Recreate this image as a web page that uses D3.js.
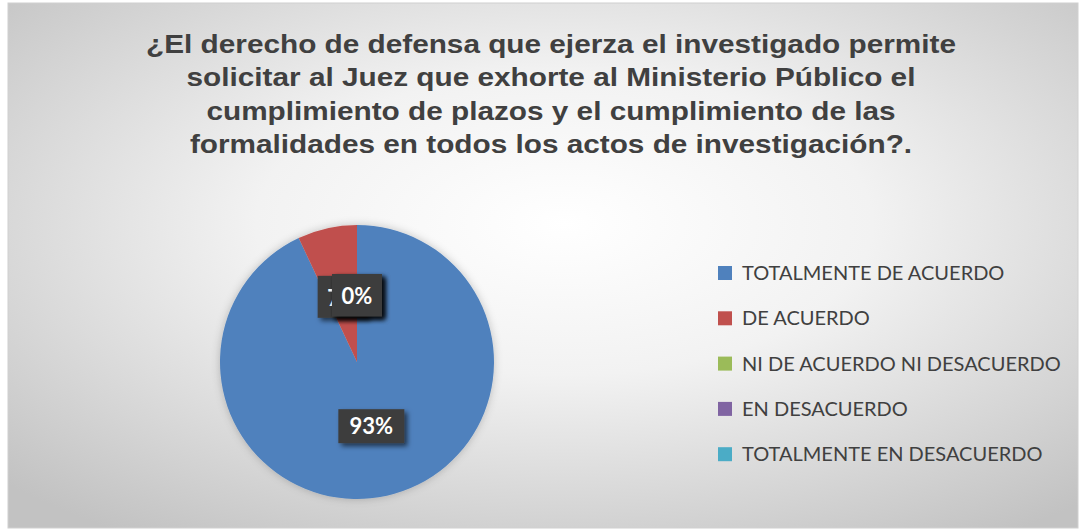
<!DOCTYPE html>
<html>
<head>
<meta charset="utf-8">
<script src="https://cdn.jsdelivr.net/npm/d3@7"></script>
<style>
  body { margin: 0; background: #fff; }
</style>
</head>
<body>
<div id="container"></div>
<script>
const titleLines = [
  "¿El derecho de defensa que ejerza el investigado permite",
  "solicitar al  Juez que exhorte al Ministerio Público el",
  "cumplimiento  de plazos y el cumplimiento  de las",
  "formalidades en todos los actos de investigación?."
];
const categories = [
  "TOTALMENTE DE ACUERDO",
  "DE ACUERDO",
  "NI DE ACUERDO NI DESACUERDO",
  "EN DESACUERDO",
  "TOTALMENTE EN DESACUERDO"
];
const values = [93, 7, 0, 0, 0];
const colors = ["#4F81BD", "#C0504D", "#9BBB59", "#8064A2", "#4BACC6"];

const width = 1086, height = 529;

const svg = d3.select("#container")
  .append("svg")
  .attr("width", width)
  .attr("height", height);

const defs = svg.append("defs");

const bg = defs.append("radialGradient")
  .attr("id", "bg")
  .attr("cx", "52%").attr("cy", "42%").attr("r", "72%");
bg.append("stop").attr("offset", "0%").attr("stop-color", "#ffffff");
bg.append("stop").attr("offset", "40%").attr("stop-color", "#f2f2f2");
bg.append("stop").attr("offset", "100%").attr("stop-color", "#c2c2c2");

const shadow = defs.append("filter").attr("id", "shadow")
  .attr("x", "-20%").attr("y", "-20%").attr("width", "150%").attr("height", "150%");
shadow.append("feDropShadow")
  .attr("dx", 3).attr("dy", 3).attr("stdDeviation", 2.5)
  .attr("flood-color", "#000").attr("flood-opacity", 0.6);

const pieShadow = defs.append("filter").attr("id", "pieShadow")
  .attr("x", "-20%").attr("y", "-20%").attr("width", "140%").attr("height", "140%");
pieShadow.append("feDropShadow")
  .attr("dx", 0).attr("dy", 0).attr("stdDeviation", 4)
  .attr("flood-color", "#000").attr("flood-opacity", 0.22);

// chart area
svg.append("rect")
  .attr("x", 8).attr("y", 3)
  .attr("width", 1070).attr("height", 525)
  .attr("fill", "url(#bg)")
  .attr("stroke", "#d0d0d0");

// title (the original font is stretched sideways)
svg.append("g")
  .attr("transform", "translate(551,0) scale(1.19,1)")
  .selectAll("text")
  .data(titleLines)
  .join("text")
  .attr("x", 0)
  .attr("y", (d, i) => 53 + i * 33.3)
  .attr("text-anchor", "middle")
  .style("font-family", "'Liberation Sans', Arial, sans-serif")
  .style("font-size", "25px")
  .style("font-weight", "bold")
  .style("fill", "#404040")
  .text(d => d);

// pie
const cx = 357, cy = 362, r = 137;
const pie = d3.pie().sort(null).value(d => d);
const arcs = pie(values);
const arc = d3.arc().innerRadius(0).outerRadius(r);
const labelArc = d3.arc().innerRadius(r * 0.48).outerRadius(r * 0.48);

const pieGroup = svg.append("g")
  .attr("transform", `translate(${cx},${cy})`);

pieGroup.append("g")
  .attr("filter", "url(#pieShadow)")
  .selectAll("path")
  .data(arcs)
  .join("path")
  .attr("d", arc)
  .attr("fill", (d, i) => colors[i]);

// labels (zero slices stack on top of each other)
const labels = pieGroup.append("g")
  .selectAll("g")
  .data(arcs)
  .join("g")
  .attr("transform", d => {
    const [x, y] = labelArc.centroid(d);
    return `translate(${x},${y})`;
  });

labels.append("rect")
  .attr("x", d => d.data >= 10 ? -33 : -25)
  .attr("y", d => d.data >= 10 ? -17 : -22)
  .attr("width", d => d.data >= 10 ? 66 : 50)
  .attr("height", d => d.data >= 10 ? 34 : 42)
  .attr("fill", "#3e3e3e")
  .attr("filter", "url(#shadow)");

labels.append("text")
  .attr("text-anchor", "middle")
  .attr("dy", "0.36em")
  .style("font-family", "Lato, 'Open Sans', sans-serif")
  .style("font-size", "22px")
  .style("font-weight", "bold")
  .style("fill", "#ffffff")
  .text(d => `${d.data}%`);

// legend
const legend = svg.append("g")
  .attr("transform", "translate(718, 273)");

const items = legend.selectAll("g")
  .data(categories)
  .join("g")
  .attr("transform", (d, i) => `translate(0, ${i * 45.3})`);

items.append("rect")
  .attr("x", 0).attr("y", -7)
  .attr("width", 14).attr("height", 14)
  .attr("fill", (d, i) => colors[i]);

items.append("text")
  .attr("x", 24)
  .attr("dy", "0.35em")
  .style("font-family", "Lato, 'Open Sans', sans-serif")
  .style("font-size", "20px")
  .style("fill", "#404040")
  .text(d => d);
</script>
</body>
</html>
